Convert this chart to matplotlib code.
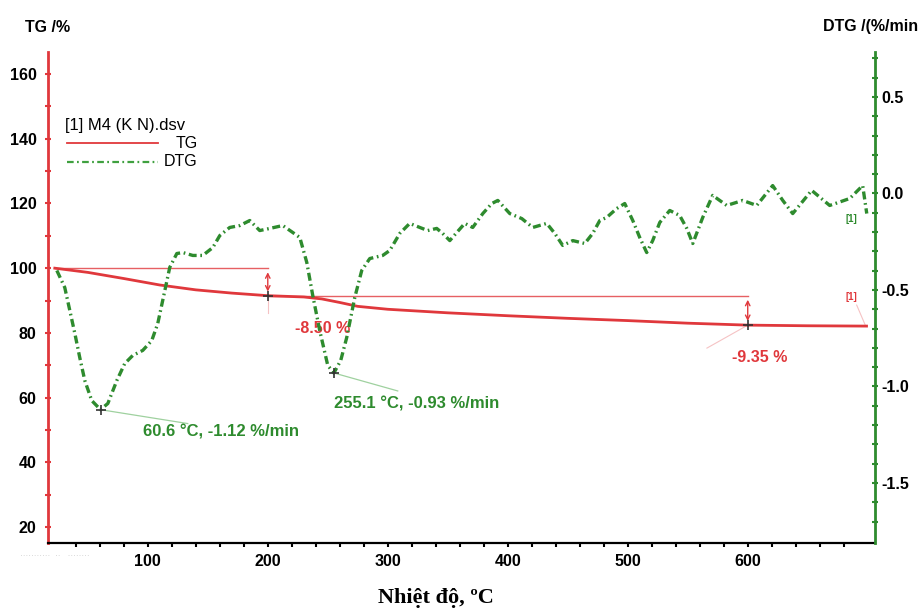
import matplotlib
matplotlib.use('Agg')
import matplotlib.pyplot as plt
from matplotlib.ticker import FixedLocator
from matplotlib.lines import Line2D

plt.rcParams['font.family'] = ['Liberation Sans', 'DejaVu Sans']
plt.rcParams['axes.unicode_minus'] = False

red = '#e0383c'
green = '#2e8b2e'

# TG curve, temperature in °C, mass in %
tg_temp = [22.5, 50, 80, 110, 140, 170, 200, 230, 245, 260, 275, 300, 350, 400, 450, 500, 550, 600, 650, 699]
tg_val = [100, 98.7, 96.8, 94.8, 93.3, 92.3, 91.5, 91.1, 90.5, 89.4, 88.2, 87.3, 86.2, 85.3, 84.5, 83.8, 83.0, 82.4, 82.2, 82.1]

# DTG curve, %/min
dtg_temp = [24.2, 30.8, 35.0, 39.2, 43.3, 47.5, 53.3, 60.6, 66.7, 74.2, 80.8, 87.5, 95.8, 103.3,
            108.3, 114.2, 118.3, 124.2, 129.2, 137.5, 145.8, 154.2, 160.0, 168.3, 176.7, 185.0,
            193.3, 201.7, 212.5, 220.8, 226.7, 232.5, 237.5, 243.3, 250.0, 255.1, 260.8, 265.8,
            272.5, 278.3, 285.0, 295.8, 301.7, 310.0, 318.3, 326.7, 333.3, 340.8, 345.8, 351.7,
            357.5, 364.2, 370.8, 379.2, 386.7, 391.7, 401.7, 411.7, 420.8, 432.5, 439.2, 445.8,
            454.2, 464.2, 470.8, 476.7, 482.5, 490.8, 497.5, 504.2, 510.0, 515.8, 520.8, 526.7,
            535.0, 543.3, 549.2, 554.2, 562.5, 570.8, 582.5, 595.8, 607.5, 620.8, 629.2, 637.5,
            653.3, 668.3, 685.0, 695.8, 699.2]
dtg_val = [-0.399, -0.487, -0.606, -0.725, -0.850, -0.969, -1.073, -1.12, -1.088, -0.969, -0.881,
           -0.839, -0.813, -0.762, -0.674, -0.503, -0.383, -0.311, -0.306, -0.321, -0.321, -0.280,
           -0.218, -0.176, -0.166, -0.140, -0.192, -0.181, -0.166, -0.202, -0.228, -0.357, -0.529,
           -0.710, -0.891, -0.93, -0.865, -0.746, -0.539, -0.399, -0.337, -0.321, -0.295, -0.207,
           -0.155, -0.176, -0.192, -0.181, -0.207, -0.244, -0.202, -0.155, -0.176, -0.104, -0.052,
           -0.036, -0.104, -0.130, -0.176, -0.155, -0.207, -0.269, -0.244, -0.259, -0.207, -0.140,
           -0.124, -0.078, -0.052, -0.140, -0.228, -0.306, -0.244, -0.150, -0.088, -0.114, -0.181,
           -0.259, -0.124, -0.010, -0.062, -0.036, -0.062, 0.041, -0.036, -0.104, 0.016, -0.062,
           -0.026, 0.041, -0.104]

# mass loss steps: (start T, end T, start TG, end TG, label)
steps = [(22.5, 200, 100.0, 91.5, '-8.50 %'), (200, 600, 91.5, 82.4, '-9.35 %')]
step_label_pos = [(246, 81.5), (610, 72.5)]

# DTG peaks
peaks_t = [60.6, 255.1]
peaks_v = [-1.12, -0.93]
peak_labels = ['60.6 °C, -1.12 %/min', '255.1 °C, -0.93 %/min']
peak_label_pos = [(160.8, -1.238), (324, -1.088)]

fig = plt.figure(figsize=(9.2, 6.12), dpi=100)
ax = fig.add_axes([0.052, 0.1127, 0.899, 0.8023])
ax2 = ax.twinx()

ax.set_xlim(16.7, 706)
ax.set_ylim(15.06, 166.8)
ax2.set_ylim(-1.811, 0.733)

# curves
ax.plot(tg_temp, tg_val, color=red, lw=2, zorder=3)
ax2.plot(dtg_temp, dtg_val, color=green, lw=2.4, ls=(0, (2.4, 1.1, 0.5, 1.1)), zorder=3)

# TG step annotations
for (t0, t1, v0, v1, lab), (lx, ly) in zip(steps, step_label_pos):
    ax.plot([t0, t1], [v0, v0], color=red, lw=1, alpha=0.8)
    ax.annotate('', xy=(t1, v1 + 0.4), xytext=(t1, v0 - 0.4),
                arrowprops=dict(arrowstyle='<->', color=red, lw=1, mutation_scale=8))
    ax.plot([t1], [v1], marker='+', color='#333333', ms=7, mew=1.2, zorder=4)
    ax.text(lx, ly, lab, color=red, fontsize=11.5, fontweight='bold', ha='center', va='center')

ax.plot([200, 200], [91.5, 86.0], color=red, lw=0.8, alpha=0.3)
ax.plot([600, 566], [82.4, 75.3], color=red, lw=0.8, alpha=0.3)
ax.text(686.7, 91.0, '[1]', color=red, fontsize=7, fontweight='bold', ha='center', va='center')
ax.plot([690.8, 698.3], [88.6, 82.1], color=red, lw=0.8, alpha=0.3)

# DTG peak annotations
leader_ends = [(133.3, -1.192), (308.3, -1.023)]
for t, v, lab, (lx, ly), (ex, ey) in zip(peaks_t, peaks_v, peak_labels, peak_label_pos, leader_ends):
    ax2.plot([t], [v], marker='+', color='#333333', ms=7, mew=1.2, zorder=4)
    ax2.plot([t, ex], [v, ey], color='#9fd19f', lw=0.9)
    ax2.text(lx, ly, lab, color=green, fontsize=12, fontweight='bold', ha='center', va='center')
ax2.text(686.7, -0.13, '[1]', color=green, fontsize=7, fontweight='bold', ha='center', va='center')

# axes styling
ax.spines['top'].set_visible(False)
ax2.spines['top'].set_visible(False)
ax.spines['left'].set_color(red)
ax.spines['left'].set_linewidth(2)
ax2.spines['right'].set_color(green)
ax2.spines['right'].set_linewidth(2)
ax2.spines['left'].set_visible(False)
ax.spines['right'].set_visible(False)
ax.spines['bottom'].set_linewidth(1.6)
ax2.spines['bottom'].set_visible(False)

ax.set_xticks([100, 200, 300, 400, 500, 600])
ax.xaxis.set_minor_locator(FixedLocator([t for t in range(40, 700, 20) if t % 100]))
ax.set_yticks([20, 40, 60, 80, 100, 120, 140, 160])
ax.yaxis.set_minor_locator(FixedLocator(list(range(30, 170, 20))))
ax2.set_yticks([-1.5, -1.0, -0.5, 0.0, 0.5])
ax2.set_yticklabels(['-1.5', '-1.0', '-0.5', '0.0', '0.5'])
ax2.yaxis.set_minor_locator(FixedLocator([-1.7, -1.6, -1.4, -1.3, -1.2, -1.1, -0.9, -0.8, -0.7, -0.6,
                                          -0.4, -0.3, -0.2, -0.1, 0.1, 0.2, 0.3, 0.4, 0.6, 0.7]))

ax.tick_params(axis='x', which='both', direction='out', length=3, width=1.5, pad=5, labelsize=11.5)
ax.tick_params(axis='y', which='both', direction='inout', length=4, width=1.5, color=red,
               pad=6, labelsize=11.5)
ax2.tick_params(axis='y', which='both', direction='inout', length=4, width=1.5, color=green,
                pad=3, labelsize=11.5)
for lab in ax.get_xticklabels() + ax.get_yticklabels() + ax2.get_yticklabels():
    lab.set_fontweight('bold')

# axis titles
fig.text(25 / 920, 1 - 27 / 612, 'TG /%', fontsize=11.5, fontweight='bold', va='center', ha='left')
fig.text(918 / 920, 1 - 27 / 612, 'DTG /(%/min', fontsize=11.5, fontweight='bold', va='center', ha='right')
fig.text(436 / 920, 1 - 598 / 612, 'Nhiệt độ, ºC', fontsize=16, fontweight='bold',
         family=['Liberation Serif', 'DejaVu Serif'], va='center', ha='center')
fig.text(20 / 920, 1 - 556 / 612, '···········  ··   ········', fontsize=6, color='#c8c8c8',
         va='center', ha='left')

# legend
fig.text(65 / 920, 1 - 126 / 612, '[1] M4 (K N).dsv', fontsize=12, va='center', ha='left')
fig.add_artist(Line2D([67 / 920, 158 / 920], [1 - 143 / 612] * 2, color=red, lw=1.3,
                      transform=fig.transFigure))
fig.add_artist(Line2D([67 / 920, 158 / 920], [1 - 162 / 612] * 2, color='#3fa03f', lw=1.6,
                      ls=(0, (3, 1.5, 0.8, 1.5)), transform=fig.transFigure))
fig.text(198 / 920, 1 - 143 / 612, 'TG', fontsize=11.5, va='center', ha='right')
fig.text(198 / 920, 1 - 162 / 612, 'DTG', fontsize=11.5, va='center', ha='right')

fig.savefig('out.png', dpi=100)
